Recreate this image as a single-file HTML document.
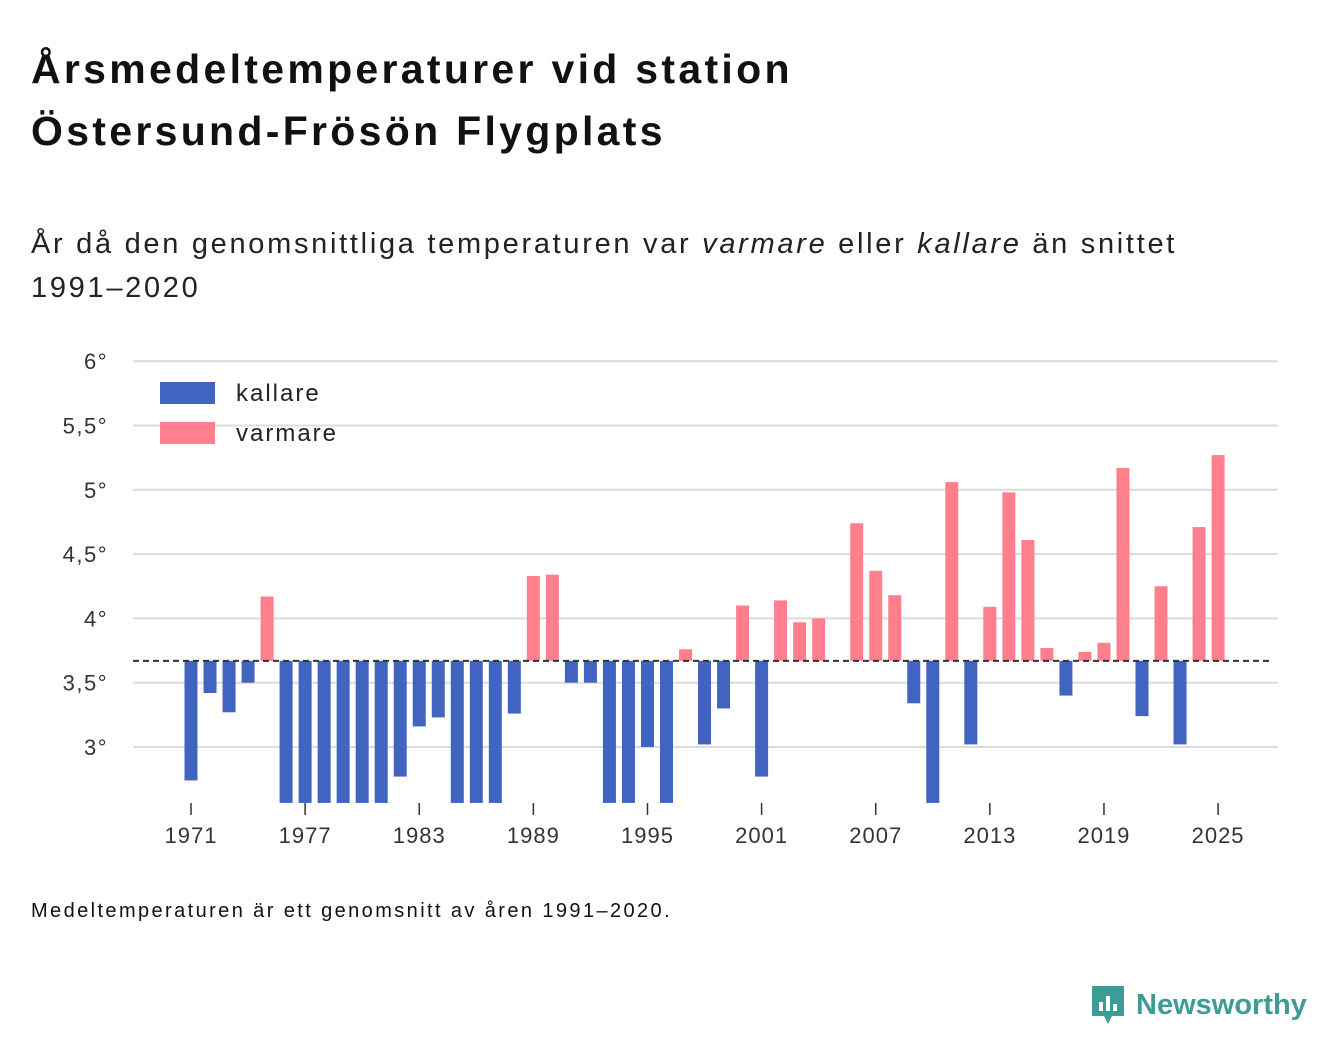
<!DOCTYPE html>
<html><head><meta charset="utf-8"><style>
body{margin:0;width:1340px;height:1056px;background:#fff;font-family:"Liberation Sans","DejaVu Sans",sans-serif;color:#111;position:relative;overflow:hidden}
h1{position:absolute;left:31px;top:38px;margin:0;font-size:41px;line-height:62px;font-weight:bold;color:#111;letter-spacing:3.3px}
.sub{position:absolute;left:31px;top:222px;font-size:29px;line-height:44px;color:#222;letter-spacing:2.7px}
.foot{position:absolute;left:31px;top:900px;font-size:20px;color:#111;letter-spacing:2.4px}
.logo{position:absolute;left:1090px;top:984px;display:flex;align-items:center;color:#3f9b95;font-size:29px;font-weight:bold}
svg{position:absolute;left:0;top:0}
</style></head><body>
<h1>Årsmedeltemperaturer vid station<br>Östersund-Frösön Flygplats</h1>
<div class="sub">År då den genomsnittliga temperaturen var <i>varmare</i> eller <i>kallare</i> än snittet<br>1991–2020</div>
<svg id="chart" width="1340" height="1056"></svg>
<div class="foot">Medeltemperaturen är ett genomsnitt av åren 1991–2020.</div>
<div class="logo"><svg style="position:static" width="36" height="42" viewBox="0 0 36 42"><path d="M2 2h32v30H22l-4 8-4-8H2z" fill="#3f9b95"/><rect x="9" y="18" width="4" height="9" fill="#fff"/><rect x="16" y="12" width="4" height="15" fill="#fff"/><rect x="23" y="20" width="4" height="7" fill="#fff"/></svg><span style="margin-left:10px">Newsworthy</span></div>
<script>
const years=[];for(let y=1971;y<=2025;y++)years.push(y);
const temps=[2.74,3.42,3.27,3.5,4.17,2.4,2.4,2.4,2.4,2.4,2.4,2.77,3.16,3.23,2.4,2.4,2.4,3.26,4.33,4.34,3.5,3.5,2.4,2.4,3.0,2.4,3.76,3.02,3.3,4.1,2.77,4.14,3.97,4.0,3.67,4.74,4.37,4.18,3.34,2.4,5.06,3.02,4.09,4.98,4.61,3.77,3.4,3.74,3.81,5.17,3.24,4.25,3.02,4.71,5.27];
const baseline=3.67;
const yTicks=[3,3.5,4,4.5,5,5.5,6];
const yTickLabels=["3°","3,5°","4°","4,5°","5°","5,5°","6°"];
const xTicks=[1971,1977,1983,1989,1995,2001,2007,2013,2019,2025];
const NS="http://www.w3.org/2000/svg",svg=document.getElementById('chart');
const yMin=2.565;
const y=v=>747-(v-3)*128.6, x=yr=>191+(yr-1971)*19.02;
function el(t,a){const e=document.createElementNS(NS,t);for(const k in a)e.setAttribute(k,a[k]);svg.appendChild(e);return e;}
yTicks.forEach((t,i)=>{
 const g=el('line',{x1:133,x2:1278,y1:y(t),y2:y(t),stroke:'#dcdcdc','stroke-width':2});
 
 
 const l=el('text',{x:108,y:y(t)+8,'text-anchor':'end','font-size':22,fill:'#333','letter-spacing':1.5});l.textContent=yTickLabels[i];
 
 
});
years.forEach((yr,i)=>{
 const v=Math.max(temps[i],yMin);if(Math.abs(v-baseline)<0.005)return;
 const top=Math.min(y(v),y(baseline)),h=Math.abs(y(v)-y(baseline));
 const r=el('rect',{x:x(yr)-6.5,y:top,width:13,height:h,fill:v>baseline?'#ff7f8c':'#4064c0'});
 
 
});
const bl=el('line',{x1:133,x2:1273,y1:y(baseline),y2:y(baseline),stroke:'#333','stroke-width':2,'stroke-dasharray':'6,4'});


xTicks.forEach(t=>{
 el('line',{x1:x(t),x2:x(t),y1:803,y2:815,stroke:'#333','stroke-width':1.5});
 const l=el('text',{x:x(t),y:843,'text-anchor':'middle','font-size':22,fill:'#333','letter-spacing':1});l.textContent=t;
 
 
});
[['kallare','#4064c0',382],['varmare','#ff7f8c',422]].forEach(([n,c,yy])=>{
 const r=el('rect',{x:160,y:yy,width:55,height:22,fill:c});
 
 
 const t=el('text',{x:236,y:yy+19,'font-size':24,fill:'#222','letter-spacing':2});t.textContent=n;
 
 
});
</script>
</body></html>
